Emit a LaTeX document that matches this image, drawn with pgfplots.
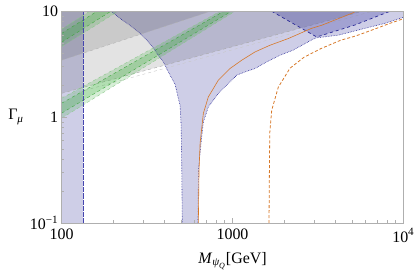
\documentclass[border=0pt]{standalone}
\usepackage{amsmath}
\usepackage{fontspec}
\setmainfont{Liberation Serif}
\usepackage{pgfplots}
\pgfplotsset{compat=1.18}

\definecolor{bfill}{RGB}{60,60,160}
\definecolor{bline}{RGB}{40,40,150}
\definecolor{vline}{RGB}{70,70,175}
\definecolor{gfill}{RGB}{50,170,50}
\definecolor{gline}{RGB}{60,165,60}
\definecolor{orng}{RGB}{215,120,40}
\definecolor{frame}{RGB}{175,175,175}

\begin{document}
\begin{tikzpicture}
\begin{axis}[name=ax, scale only axis, width=341.6bp, height=211.7bp,
  xmode=log, ymode=log, xmin=100, xmax=10000, ymin=0.1, ymax=10,
  xtick={100,1000,10000}, xticklabels={100,1000,10\textsuperscript{4}},
  ytick={0.1,1,10}, yticklabels={10\textsuperscript{−1},1,10},
  tick pos=left, tick align=inside,
  major tick length=5bp, minor tick length=2.8bp,
  every tick/.style={frame, line width=0.5pt},
  axis line style={frame, line width=0.6pt},
  axis on top,
  tick label style={font=\fontsize{16}{19}\selectfont},
  xticklabel style={yshift=-2bp},
  label style={font=\fontsize{16}{19}\selectfont},
  xlabel={\textit{M}$_{\textit{ψ}_{\textit{Q}}}$[GeV]},
  ylabel={Γ$_{\textit{μ}}$},
  xlabel style={at={(axis description cs:0.5,-0.18)}, anchor=center},
  ylabel style={rotate=-90, at={(axis description cs:-0.134,0.5)}, anchor=center},
]
% region 1 (blue)
\addplot[draw=none, fill=bfill, fill opacity=0.25] coordinates {(100,0.1) (133,0.1) (133,10) (100,10)} -- cycle;
\addplot[draw=none, fill=bfill, fill opacity=0.25] coordinates {
 (195,10) (219,8.6) (250,7.4) (287,6.2) (310,5.5) (344,4.5) (370,3.8) (393,3.35) (421,2.68) (441,2.33) (461,2.05) (482,1.5) (493,1.3) (500,0.85) (504,0.4) (508,0.1)
 (628,0.1) (632,0.316) (654,0.565) (675,0.903) (722,1.251) (826,1.673) (945,2.079) (1058,2.49) (1184,2.676) (1354,2.88) (1586,3.324) (1897,3.846) (2261,4.287) (2960,5.45) (3110,5.62) (3400,5.72) (4164,5.95) (5967,6.91) (7813,7.7) (10000,8.78)
 (10000,10)} -- cycle;
% gray regions
\addplot[draw=none, fill=black, fill opacity=0.11] coordinates {(100,1.68) (5755,10) (100,10)} -- cycle;
\addplot[draw=none, fill=black, fill opacity=0.11] coordinates {(100,3.45) (745,10) (100,10)} -- cycle;
\addplot[gray!70, dashed, line width=0.4pt] coordinates {(100,1.68) (5755,10)};
\addplot[gray!45, dashed, line width=0.4pt] coordinates {(100,1.56) (6600,10)};
\addplot[gray!60, dashed, line width=0.4pt] coordinates {(100,3.45) (745,10)};
% green bands
\addplot[draw=none, fill=gfill, fill opacity=0.2] coordinates {(100,0.978) (1034,10) (845,10) (100,1.51)} -- cycle;
\addplot[draw=none, fill=gfill, fill opacity=0.22] coordinates {(100,1.09) (984,10) (889,10) (100,1.355)} -- cycle;
\addplot[draw=none, fill=gfill, fill opacity=0.2] coordinates {(100,4.64) (214,10) (146,10) (100,6.81)} -- cycle;
\addplot[draw=none, fill=gfill, fill opacity=0.22] coordinates {(100,5.11) (194,10) (161,10) (100,6.19)} -- cycle;
\addplot[gline, dashed, line width=0.4pt] coordinates {(100,1.09) (984,10)};
\addplot[gline, dashed, line width=0.4pt] coordinates {(100,1.355) (889,10)};
\addplot[gline!60, dashed, line width=0.4pt] coordinates {(100,0.978) (1034,10)};
\addplot[gline!60, dashed, line width=0.4pt] coordinates {(100,1.51) (845,10)};
\addplot[gline, dashed, line width=0.4pt] coordinates {(100,5.11) (194,10)};
\addplot[gline, dashed, line width=0.4pt] coordinates {(100,6.19) (161,10)};
\addplot[gline!60, dashed, line width=0.4pt] coordinates {(100,4.64) (214,10)};
\addplot[gline!60, dashed, line width=0.4pt] coordinates {(100,6.81) (146,10)};
% region 2 (darker blue)
\addplot[draw=none, fill=bfill, fill opacity=0.3] coordinates {(1697,10) (3112,5.72) (5215,7.43) (8356,10)} -- cycle;
\addplot[bline, dashed, line width=0.7pt] coordinates {(1697,10) (3112,5.72) (5215,7.43) (8356,10)};
% region 1 boundaries
\addplot[vline, dash pattern=on 0.6pt off 0.6pt, line width=0.4pt] coordinates {(133,0.1) (133,10)};
\addplot[bline, densely dotted, line width=0.6pt] coordinates {
 (195,10) (219,8.6) (250,7.4) (287,6.2) (310,5.5) (344,4.5) (370,3.8) (393,3.35) (421,2.68) (441,2.33) (461,2.05) (482,1.5) (493,1.3) (500,0.85) (504,0.4) (508,0.1)};
\addplot[bline, densely dotted, line width=0.6pt] coordinates {
 (628,0.1) (632,0.316) (654,0.565) (675,0.903) (722,1.251) (826,1.673) (945,2.079) (1058,2.49) (1184,2.676) (1354,2.88) (1586,3.324) (1897,3.846) (2261,4.287) (2960,5.45) (3110,5.62) (3400,5.72) (4164,5.95) (5967,6.91) (7813,7.7) (10000,8.78)};
% orange lines
\addplot[orng, line width=0.6pt] coordinates {
 (631,0.1) (637,0.316) (646,0.565) (675,1.084) (722,1.554) (826,2.234) (967,2.88) (1132,3.449) (1354,4.13) (1658,4.78) (2122,5.53) (2908,6.91) (3329,7.38) (4989,9.57) (5285,10)};
\addplot[orng, dash pattern=on 3pt off 2pt, line width=0.8pt] coordinates {
 (1636,0.1) (1643,0.2545) (1652,0.706) (1697,1.164) (1854,1.919) (2171,2.90) (2621,3.68) (3300,4.45) (4300,5.33) (5215,5.82) (6000,6.31) (7139,7.0) (8300,7.67) (10000,8.5)};
\end{axis}
\pgfresetboundingbox
\path ([xshift=-61.7bp,yshift=-53bp]ax.south west) rectangle ([xshift=11.7bp,yshift=11.3bp]ax.north east);
\end{tikzpicture}
\end{document}
